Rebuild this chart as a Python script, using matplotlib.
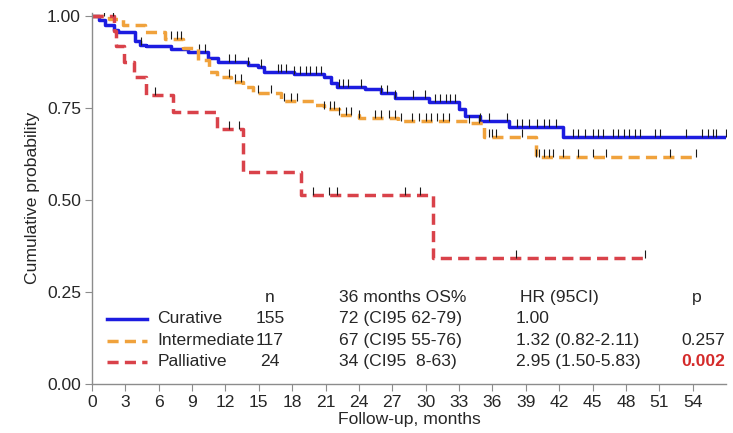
import numpy as np
import matplotlib
matplotlib.use("Agg")
import matplotlib.pyplot as plt
from matplotlib.markers import TICKUP

plt.rcParams['font.family'] = ['Liberation Sans', 'DejaVu Sans']

# Kaplan-Meier step functions: event times (months) and survival after each step
cur_t = [0, 0.6, 1.2, 2.0, 2.3, 3.9, 4.3, 4.9, 7.1, 8.6, 10.4, 11.3, 14.0, 14.9, 15.5,
         18.2, 20.9, 21.5, 22.0, 24.5, 26.0, 27.2, 30.3, 33.0, 33.5, 34.9, 37.5, 42.3]
cur_s = [1.0, 0.989, 0.975, 0.962, 0.954, 0.930, 0.920, 0.916, 0.908, 0.900, 0.886, 0.875,
         0.867, 0.859, 0.848, 0.840, 0.832, 0.818, 0.807, 0.800, 0.790, 0.777, 0.766,
         0.745, 0.728, 0.715, 0.698, 0.671]
cur_end = 57.0

int_t = [0, 1.5, 2.8, 4.8, 6.6, 8.2, 9.5, 10.5, 11.2, 12.5, 13.6, 14.5, 17.0, 20.0,
         20.9, 22.2, 24.0, 27.5, 33.8, 35.2, 39.9]
int_s = [1.0, 0.990, 0.975, 0.954, 0.935, 0.913, 0.880, 0.848, 0.832, 0.820, 0.805,
         0.790, 0.768, 0.758, 0.745, 0.731, 0.722, 0.715, 0.709, 0.671, 0.615]
int_end = 54.3

pal_t = [0, 2.0, 2.2, 2.9, 3.8, 4.9, 7.3, 11.2, 13.6, 18.8, 30.7]
pal_s = [1.0, 0.958, 0.917, 0.875, 0.833, 0.785, 0.738, 0.692, 0.576, 0.514, 0.342]
pal_end = 49.7

# censored observations (months)
cur_cens = [4.4, 9.6, 10.2, 12.3, 12.9, 14.0, 15.2, 16.7, 17.0, 17.4, 18.2, 18.7, 19.2,
            19.6, 20.1, 20.6, 22.2, 22.6, 23.0, 24.2, 26.0, 26.5, 27.2, 28.9, 29.9,
            30.8, 31.3, 31.8, 32.2, 32.6, 34.9, 35.7, 37.3, 38.2, 38.7, 39.3, 40.0,
            40.6, 41.1, 41.7, 43.2, 43.7, 44.3, 45.0, 45.5, 45.9, 46.8, 47.3, 47.8,
            48.3, 48.8, 49.3, 50.6, 51.1, 53.4, 54.8, 55.4, 55.8, 56.1, 57.0]
int_cens = [1.1, 7.1, 7.6, 8.0, 12.3, 12.9, 13.4, 14.9, 16.1, 17.3, 17.9, 18.4, 20.9,
            21.4, 21.8, 22.2, 22.8, 23.3, 24.0, 25.4, 26.0, 26.7, 27.2, 27.8, 28.8,
            29.4, 30.0, 30.5, 31.0, 31.6, 32.1, 33.9, 34.8, 35.7, 36.0, 36.3, 38.7,
            39.9, 40.2, 40.6, 41.1, 41.4, 42.3, 43.7, 45.0, 46.2, 52.0, 54.3]
pal_cens = [1.9, 5.7, 12.3, 13.2, 19.9, 21.3, 22.0, 28.1, 29.5, 38.1, 49.7]

groups = ["Curative", "Intermediate", "Palliative"]
n_vals = ["155", "117", "24"]
os36 = ["72 (CI95 62-79)", "67 (CI95 55-76)", "34 (CI95  8-63)"]
hr = ["1.00", "1.32 (0.82-2.11)", "2.95 (1.50-5.83)"]
p_vals = ["", "0.257", "0.002"]

colors = ["#1c1ce0", "#f0a23c", "#d9424a"]
txt = '#262626'
fs = 12.6

fig = plt.figure(figsize=(7.33, 4.33), dpi=100)
ax = fig.add_axes([0.1255, 0.113, 0.865, 0.858])


def surv_at(t, s, x):
    i = np.searchsorted(t, x, side='right') - 1
    return s[max(i, 0)]


series = [(cur_t, cur_s, cur_end, cur_cens, '-'),
          (int_t, int_s, int_end, int_cens, '--'),
          (pal_t, pal_s, pal_end, pal_cens, '--')]

lines = []
for (t, s, end, cens, ls), col in zip(series, colors):
    xs = list(t) + [end]
    ys = list(s) + [s[-1]]
    ln, = ax.step(xs, ys, where='post', color=col, lw=2.5, ls=ls)
    if ls == '--':
        ln.set_dashes((3.2, 1.8))
    lines.append(ln)
    # censor marks sit on top of the curve
    cy = [surv_at(t, s, c) for c in cens]
    ax.plot(cens, cy, ls='none', marker=TICKUP, ms=6, mew=0.8, color='#1a1a1a')

ax.set_xlim(0, 57)
ax.set_ylim(0, 1.008)
ax.set_xticks(np.arange(0, 55, 3))
ax.set_yticks([0, 0.25, 0.5, 0.75, 1.0])
ax.set_yticklabels(["0.00", "0.25", "0.50", "0.75", "1.00"])
for sp in ['top', 'right']:
    ax.spines[sp].set_visible(False)
for sp in ['left', 'bottom']:
    ax.spines[sp].set_color('#8c8c8c')
    ax.spines[sp].set_linewidth(1.0)
ax.tick_params(direction='out', length=5, color='#8c8c8c', labelsize=fs,
               labelcolor=txt, pad=3)
ax.set_xlabel("Follow-up, months", fontsize=fs, color=txt, labelpad=1)
ax.set_ylabel("Cumulative probability", fontsize=fs, color=txt, labelpad=5)

# summary table inside the plot
row_y = [0.177, 0.117, 0.060]
head_y = 0.236
n_x = 16.0
ax.text(n_x, head_y, "n", ha='center', va='center', fontsize=fs, color=txt)
ax.text(22.2, head_y, "36 months OS%", ha='left', va='center', fontsize=fs, color=txt)
ax.text(38.5, head_y, "HR (95CI)", ha='left', va='center', fontsize=fs, color=txt)
ax.text(53.9, head_y, "p", ha='left', va='center', fontsize=fs, color=txt)
for i, (g, ln) in enumerate(zip(groups, lines)):
    y = row_y[i]
    ax.plot([1.35, 4.95], [y, y], color=colors[i], lw=2.5, ls=ln.get_linestyle(),
            dashes=(3.2, 1.8) if i > 0 else (None, None))
    ax.text(5.9, y, g, ha='left', va='center', fontsize=fs, color=txt)
    ax.text(n_x, y, n_vals[i], ha='center', va='center', fontsize=fs, color=txt)
    ax.text(22.2, y, os36[i], ha='left', va='center', fontsize=fs, color=txt)
    ax.text(38.1, y, hr[i], ha='left', va='center', fontsize=fs, color=txt)
    if p_vals[i]:
        red = p_vals[i] == "0.002"
        ax.text(53.0, y, p_vals[i], ha='left', va='center', fontsize=fs,
                color='#d42a2a' if red else txt,
                fontweight='bold' if red else 'normal', clip_on=False)

fig.savefig("out.png", dpi=100)
